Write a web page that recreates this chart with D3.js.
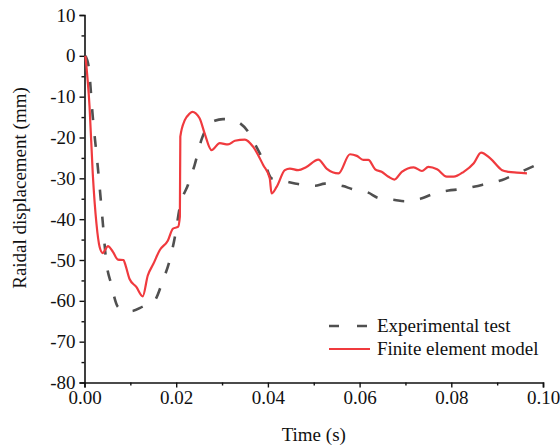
<!DOCTYPE html>
<html>
<head>
<meta charset="utf-8">
<script src="https://cdn.jsdelivr.net/npm/d3@7"></script>
<style>
  html, body { margin: 0; padding: 0; background: #fff; }
  svg { display: block; }
  text { font-family: "Liberation Serif", "Times New Roman", serif; fill: #111; }
</style>
</head>
<body>
<svg id="chart" width="560" height="447"></svg>
<script>
// ---- data ----
const expTime = [0.0002,0.0009,0.0018,0.0029,0.0040,0.0047,0.0058,0.0073,0.0090,0.0102,0.0127,0.0153,0.0171,0.0186,0.0197,0.0208,0.0226,0.0240,0.0255,0.0266,0.0284,0.0302,0.0320,0.0339,0.0357,0.0375,0.0393,0.0408,0.0441,0.0466,0.0503,0.0524,0.0564,0.0583,0.0619,0.0641,0.0677,0.0699,0.0736,0.0758,0.0794,0.0816,0.0852,0.0874,0.0911,0.0936,0.0980];
const expDisp = [0,-2.6,-14.9,-27.2,-41,-50,-55.8,-61.5,-62.5,-62.5,-61.4,-59.9,-55,-50,-44.4,-37,-31.5,-26.8,-20.6,-17.7,-15.9,-15.5,-15.7,-16.5,-18.6,-22.3,-26.3,-30,-30.8,-31.4,-31.8,-31.3,-31.9,-32.6,-33.5,-34.8,-35.3,-35.6,-34.9,-33.9,-33,-32.7,-32,-31.4,-30.4,-29.2,-27];

const feTime = [0.0002,0.0011,0.0018,0.0026,0.0033,0.0040,0.0045,0.0051,0.0062,0.0073,0.0085,0.0090,0.0098,0.0113,0.0127,0.0138,0.0150,0.0164,0.0182,0.0193,0.0204,0.0208,0.0209,0.0219,0.0229,0.0235,0.0251,0.0262,0.0277,0.0295,0.0313,0.0328,0.0350,0.0368,0.0390,0.0404,0.0408,0.0419,0.0437,0.0448,0.0466,0.0484,0.0510,0.0528,0.0554,0.0579,0.0594,0.0608,0.0619,0.0634,0.0648,0.0663,0.0676,0.0692,0.0718,0.0736,0.0750,0.0769,0.0790,0.0805,0.0827,0.0849,0.0865,0.0885,0.0911,0.0925,0.0943,0.0965];
const feDisp = [0,-12.4,-28.8,-41,-46.8,-48.3,-47.5,-46.6,-48,-49.9,-50,-51.5,-54.6,-56.6,-58.9,-53.8,-51,-47.6,-45.2,-42.3,-41.9,-39.4,-19.8,-15.7,-14.2,-13.7,-15.3,-19,-23.1,-21.4,-21.7,-20.8,-20.5,-22.3,-26.8,-30,-33.7,-32.1,-28,-27.6,-28,-27.2,-25.4,-27.6,-28.8,-24.1,-24.5,-25.5,-25.5,-27.8,-28.4,-29.6,-30.3,-28.4,-27.3,-28.2,-27.2,-27.8,-29.6,-29.6,-28.4,-26.3,-23.7,-25.1,-28,-28.4,-28.6,-28.8];

const xTicks = [0, 0.02, 0.04, 0.06, 0.08, 0.10];
const xMinor = [0.01, 0.03, 0.05, 0.07, 0.09];
const yTicks = [10, 0, -10, -20, -30, -40, -50, -60, -70, -80];
const yMinor = [5, -5, -15, -25, -35, -45, -55, -65, -75];
const seriesNames = ["Experimental test", "Finite element model"];
const xTitle = "Time (s)";
const yTitle = "Raidal displacement (mm)";

// ---- layout ----
const svg = d3.select("#chart");
const pLeft = 84.5, pRight = 543, pTop = 15, pBottom = 382.5;
const x = d3.scaleLinear().domain([0, 0.10]).range([pLeft, pRight]);
const y = d3.scaleLinear().domain([-80, 10]).range([pBottom, pTop]);

const fontSize = 19;
const axisColor = "#111";

// x axis
const gx = svg.append("g").attr("transform", `translate(0,${pBottom})`);
gx.call(d3.axisBottom(x).tickValues(xTicks).tickFormat(d3.format(".2f")).tickSize(5).tickPadding(3));
gx.append("g").call(d3.axisBottom(x).tickValues(xMinor).tickFormat("").tickSize(3))
  .select(".domain").remove();
// y axis
const gy = svg.append("g").attr("transform", `translate(${pLeft},0)`);
gy.call(d3.axisLeft(y).tickValues(yTicks).tickFormat(d => String(d)).tickSize(5).tickPadding(4));
gy.append("g").call(d3.axisLeft(y).tickValues(yMinor).tickFormat("").tickSize(3))
  .select(".domain").remove();

svg.selectAll(".domain").attr("stroke", axisColor).attr("stroke-width", 1.6);
svg.selectAll(".tick line").attr("stroke", axisColor).attr("stroke-width", 1.4);
svg.selectAll(".tick text")
  .style("font-family", '"Liberation Serif", "Times New Roman", serif')
  .style("font-size", fontSize + "px").attr("fill", "#111");
gx.selectAll(".tick text").attr("dy", "0.71em");

// titles
svg.append("text").attr("x", (pLeft + pRight) / 2).attr("y", 441)
  .attr("text-anchor", "middle").style("font-size", fontSize + "px").text(xTitle);
svg.append("text").attr("transform", `translate(26,188) rotate(-90)`)
  .attr("text-anchor", "middle").style("font-size", fontSize + "px").text(yTitle);

const expData = expTime.map((t, i) => [t, expDisp[i]]);
const feData = feTime.map((t, i) => [t, feDisp[i]]);

const lineSmooth = d3.line().x(d => x(d[0])).y(d => y(d[1])).curve(d3.curveMonotoneX);

const expColor = "#505050", feColor = "#f03a3e";

svg.append("path").datum(expData).attr("d", lineSmooth)
  .attr("fill", "none").attr("stroke", expColor).attr("stroke-width", 2.6)
  .attr("stroke-dasharray", "11,16");
svg.append("path").datum(feData).attr("d", lineSmooth)
  .attr("fill", "none").attr("stroke", feColor).attr("stroke-width", 2.2)
  .attr("stroke-linejoin", "round");

// legend
const lg = svg.append("g");
const legItems = [
  {name: seriesNames[0], color: expColor, dash: "10,18", w: 2.6, y: 326},
  {name: seriesNames[1], color: feColor, dash: null, w: 2.2, y: 349}
];
legItems.forEach(it => {
  lg.append("line").attr("x1", 329).attr("x2", 370).attr("y1", it.y).attr("y2", it.y)
    .attr("stroke", it.color).attr("stroke-width", it.w)
    .attr("stroke-dasharray", it.dash);
  lg.append("text").attr("x", 377).attr("y", it.y + 6).style("font-size", fontSize + "px").text(it.name);
});
</script>
</body>
</html>
